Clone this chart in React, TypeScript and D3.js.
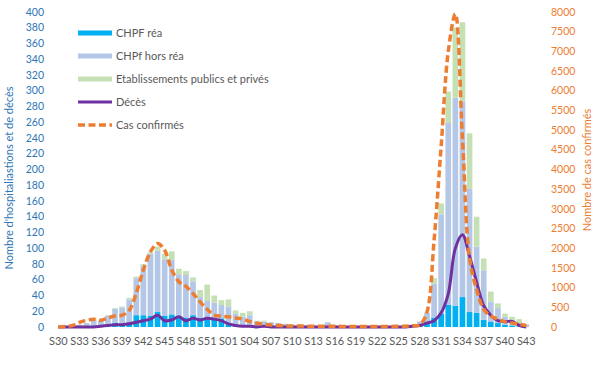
import React from "react";
import * as d3 from "d3";

const weeks: string[] = [
  ...d3.range(30, 54).map((w) => "S" + w),
  ...d3.range(1, 44).map((w) => "S" + String(w).padStart(2, "0")),
];

const rea: number[] = [
  0, 0, 0, 0, 1, 1, 1, 2, 5, 3, 6, 15, 15, 14, 19, 14, 16, 12, 12, 15, 12, 12, 12, 11, 5, 3, 2, 2, 1, 1,
  1, 0, 0, 0, 0, 0, 0, 0, 0, 0, 0, 0, 0, 0, 0, 0, 0, 0, 0, 0, 1, 2, 7, 12, 17, 28, 27, 38, 19, 18,
  9, 7, 5, 3, 2, 1, 0,
];
const horsRea: number[] = [
  0, 1, 2, 3, 4, 8, 7, 12, 18, 22, 29, 47, 63, 79, 78, 72, 69, 55, 54, 43, 26, 21, 19, 17, 21, 14, 11, 13, 6, 6,
  5, 5, 4, 3, 3, 2, 2, 2, 6, 2, 1, 1, 1, 1, 1, 1, 1, 1, 1, 2, 2, 5, 11, 43, 126, 231, 264, 248, 157, 84,
  63, 25, 19, 10, 7, 4, 3,
];
const etab: number[] = [
  0, 0, 0, 0, 0, 1, 0, 1, 1, 1, 2, 2, 2, 2, 5, 7, 11, 7, 5, 5, 9, 21, 9, 6, 9, 4, 5, 5, 1, 1,
  0, 0, 0, 0, 0, 0, 0, 0, 0, 0, 0, 0, 0, 0, 0, 0, 0, 0, 0, 0, 0, 0, 0, 7, 14, 40, 89, 101, 70, 38,
  15, 13, 6, 4, 4, 5, 1,
];
const deces: number[] = [
  0, 0, 0, 0, 0, 0, 1, 2, 3, 3, 4, 6, 8, 10, 15, 8, 9, 13, 8, 11, 9, 11, 10, 8, 4, 2, 1, 1, 0, 1,
  0, 0, 0, 0, 0, 0, 0, 0, 0, 0, 0, 0, 0, 0, 0, 0, 0, 0, 0, 0, 1, 2, 5, 8, 18, 42, 100, 117, 90, 57,
  27, 15, 8, 7, 7, 2, 0,
];
const cas: number[] = [
  0, 10, 40, 120, 170, 200, 170, 230, 280, 300, 420, 860, 1450, 1910, 2120, 1950, 1450, 1150, 1030, 850,
  640, 450, 300, 275, 260, 230, 200, 140, 95, 70, 50, 35, 30, 25, 25, 20, 20, 20, 20, 20,
  15, 15, 15, 15, 15, 15, 15, 15, 20, 20, 30, 60, 380, 2200, 4600, 7000, 7950, 4800, 1750, 950,
  450, 280, 200, 130, 100, 70, 40,
];

const leftTicks: number[] = d3.range(0, 401, 20);
const rightTicks: number[] = d3.range(0, 8001, 500);

const seriesKeys = ["rea", "horsRea", "etab"];
const seriesNames = ["CHPF réa", "CHPf hors réa", "Etablissements publics et privés"];
const seriesColors = ["#00b0f0", "#b4c7e7", "#c5e0b4"];

const W = 600;
const H = 372;
const FONT = "Lato, 'Open Sans', sans-serif";

export default function App() {
  const idx = d3.range(weeks.length);
  const x = d3.scaleBand<number>().domain(idx).range([54.75, 529.8]).paddingInner(0.2).paddingOuter(0.1);
  const yL = d3.scaleLinear().domain([0, 400]).range([327, 12]);
  const yR = d3.scaleLinear().domain([0, 8000]).range([327, 12]);

  const table = weeks.map((w, i) => ({ week: w, rea: rea[i], horsRea: horsRea[i], etab: etab[i] }));
  const stack = d3.stack<any>().keys(seriesKeys)(table);

  const cx = (i: number) => (x(i) as number) + x.bandwidth() / 2;
  const lineL = d3
    .line<number>()
    .x((_, i) => cx(i))
    .y((d) => yL(d))
    .curve(d3.curveCatmullRom.alpha(0.5));
  const lineR = d3
    .line<number>()
    .x((_, i) => cx(i))
    .y((d) => yR(d))
    .curve(d3.curveCatmullRom.alpha(0.5));

  const legendY = [33, 56, 79, 102, 125];

  return (
    <svg
      width={W}
      height={H}
      style={{ position: "absolute", left: 0, top: 0, background: "#fff" }}
      fontFamily={FONT}
    >
      {stack.map((layer, si) => (
        <g key={si} fill={seriesColors[si]}>
          {layer.map((d, i) => (
            <rect
              key={i}
              x={x(i)}
              width={x.bandwidth()}
              y={yL(d[1])}
              height={Math.max(0, yL(d[0]) - yL(d[1]))}
            />
          ))}
        </g>
      ))}
      <path d={lineL(deces) || ""} fill="none" stroke="#7030a0" strokeWidth={3} strokeLinejoin="round" />
      <path
        d={lineR(cas) || ""}
        fill="none"
        stroke="#ed7d31"
        strokeWidth={3.5}
        strokeDasharray="7,3.5"
      />

      {leftTicks.map((t) => (
        <text key={t} x={44} y={yL(t)} dy="0.35em" textAnchor="end" fontSize={10.5} fill="#2e75b6">
          {t}
        </text>
      ))}
      {rightTicks.map((t) => (
        <text key={t} x={551} y={yR(t)} dy="0.35em" textAnchor="start" fontSize={10.5} fill="#ed7d31">
          {t}
        </text>
      ))}
      {weeks.map((w, i) =>
        i % 3 === 0 ? (
          <text key={i} x={cx(i)} y={345} textAnchor="middle" fontSize={11} fill="#595959">
            {w}
          </text>
        ) : null
      )}

      <text transform={`translate(13,178) rotate(-90)`} textAnchor="middle" fontSize={11} fill="#2e75b6">
        Nombre d'hospitaliastions et de décès
      </text>
      <text transform={`translate(591,170) rotate(-90)`} textAnchor="middle" fontSize={11} fill="#ed7d31">
        Nombre de cas confirmés
      </text>

      {seriesNames.map((n, i) => (
        <g key={n}>
          <rect x={78} y={legendY[i] - 2.5} width={34} height={5} fill={seriesColors[i]} />
          <text x={116} y={legendY[i]} dy="0.35em" fontSize={11} fill="#595959">
            {n}
          </text>
        </g>
      ))}
      <line x1={78} x2={112} y1={legendY[3]} y2={legendY[3]} stroke="#7030a0" strokeWidth={3} />
      <text x={116} y={legendY[3]} dy="0.35em" fontSize={11} fill="#595959">
        Décès
      </text>
      <line
        x1={78}
        x2={112}
        y1={legendY[4]}
        y2={legendY[4]}
        stroke="#ed7d31"
        strokeWidth={3.5}
        strokeDasharray="7,3.5"
      />
      <text x={116} y={legendY[4]} dy="0.35em" fontSize={11} fill="#595959">
        Cas confirmés
      </text>
    </svg>
  );
}
